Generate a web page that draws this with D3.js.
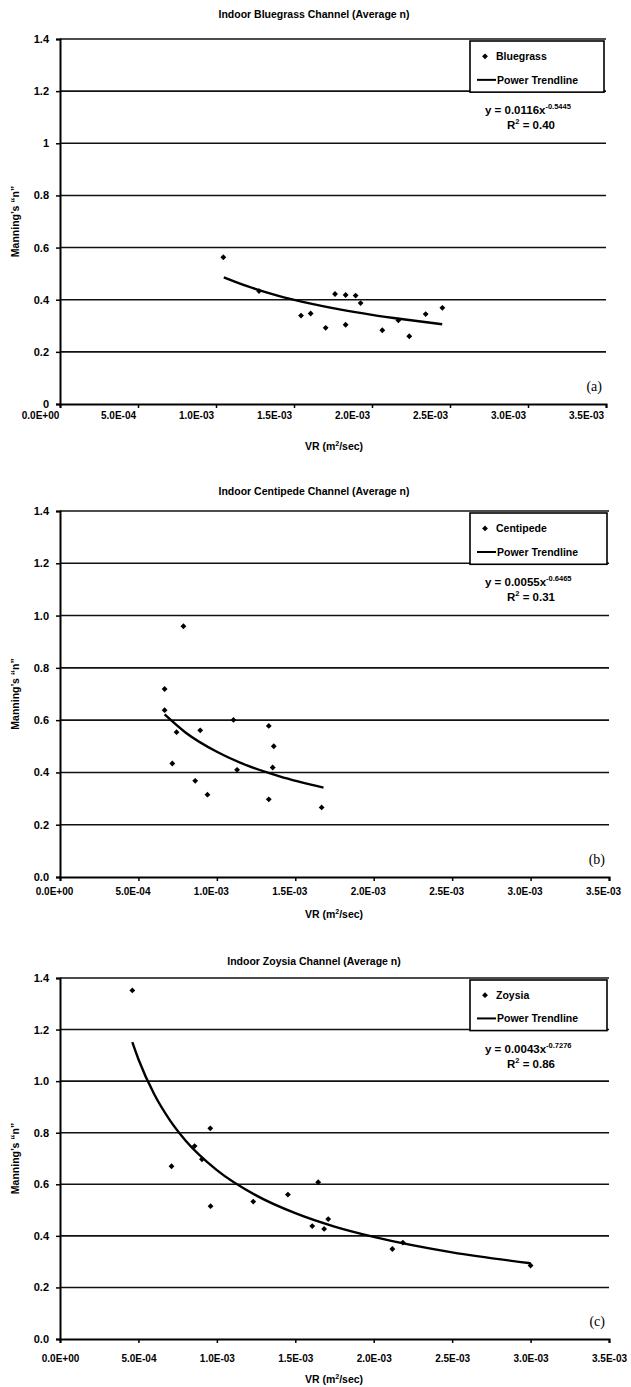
<!DOCTYPE html>
<html>
<head>
<meta charset="utf-8">
<script src="https://cdnjs.cloudflare.com/ajax/libs/d3/7.8.5/d3.min.js"></script>
<style>
  body { margin: 0; background: #fff; }
  svg { display: block; }
  text { font-family: "Liberation Sans", Arial, sans-serif; font-weight: bold; fill: #000; }
</style>
</head>
<body>
<div id="chart"></div>
<script>
// axis ticks
const xTicks = [0, 5e-4, 1e-3, 1.5e-3, 2e-3, 2.5e-3, 3e-3, 3.5e-3];
const xTickLabels = ["0.0E+00", "5.0E-04", "1.0E-03", "1.5E-03", "2.0E-03", "2.5E-03", "3.0E-03", "3.5E-03"];
const yTicks = [0, 0.2, 0.4, 0.6, 0.8, 1.0, 1.2, 1.4];
const yTickLabelsA = ["0", "0.2", "0.4", "0.6", "0.8", "1", "1.2", "1.4"];
const yTickLabelsBC = ["0.0", "0.2", "0.4", "0.6", "0.8", "1.0", "1.2", "1.4"];

// bluegrass
const bluegrassVR = [1.047e-3, 1.276e-3, 1.545e-3, 1.607e-3, 1.703e-3, 1.763e-3, 1.831e-3, 1.831e-3, 1.895e-3, 1.927e-3, 2.066e-3, 2.169e-3, 2.239e-3, 2.344e-3, 2.451e-3];
const bluegrassN = [0.563, 0.433, 0.339, 0.347, 0.292, 0.422, 0.418, 0.304, 0.416, 0.387, 0.283, 0.321, 0.260, 0.345, 0.369];
const bluegrassTrendVR = [1.05e-3, 1.2e-3, 1.4e-3, 1.6e-3, 1.8e-3, 2.0e-3, 2.2e-3, 2.45e-3];
const bluegrassTrendN = [0.486, 0.452, 0.415, 0.386, 0.362, 0.342, 0.325, 0.306];

// centipede
const centipedeVR = [0.787e-3, 0.667e-3, 0.667e-3, 0.743e-3, 0.716e-3, 0.894e-3, 0.862e-3, 0.940e-3, 1.106e-3, 1.129e-3, 1.331e-3, 1.363e-3, 1.356e-3, 1.331e-3, 1.668e-3];
const centipedeN = [0.959, 0.719, 0.638, 0.554, 0.434, 0.561, 0.368, 0.315, 0.601, 0.410, 0.578, 0.500, 0.419, 0.297, 0.266];
const centipedeTrendVR = [0.667e-3, 0.8e-3, 1.0e-3, 1.2e-3, 1.4e-3, 1.68e-3];
const centipedeTrendN = [0.622, 0.553, 0.479, 0.425, 0.385, 0.342];

// zoysia
const zoysiaVR = [0.461e-3, 0.711e-3, 0.858e-3, 0.905e-3, 0.958e-3, 0.960e-3, 1.232e-3, 1.453e-3, 1.646e-3, 1.608e-3, 1.684e-3, 1.710e-3, 2.119e-3, 2.186e-3, 3.0e-3];
const zoysiaN = [1.352, 0.670, 0.748, 0.697, 0.817, 0.515, 0.533, 0.560, 0.608, 0.438, 0.427, 0.465, 0.349, 0.374, 0.285];
const zoysiaTrendVR = [0.461e-3, 0.5e-3, 0.6e-3, 0.7e-3, 0.8e-3, 1.0e-3, 1.25e-3, 1.5e-3, 1.75e-3, 2.0e-3, 2.5e-3, 3.0e-3];
const zoysiaTrendN = [1.151, 1.085, 0.950, 0.849, 0.770, 0.655, 0.557, 0.488, 0.436, 0.396, 0.336, 0.294];

const panels = [
  {title: "Indoor Bluegrass Channel (Average n)", name: "Bluegrass", tag: "(a)",
   vr: bluegrassVR, n: bluegrassN, tvr: bluegrassTrendVR, tn: bluegrassTrendN,
   coef: "y = 0.0116x", expo: "-0.5445", r2: "0.40", yLabels: yTickLabelsA,
   top: 39, bottom: 404, left: 60, right: 606, titleY: 18, tickY: 419, vrY: 450, labelDx: -20},
  {title: "Indoor Centipede Channel (Average n)", name: "Centipede", tag: "(b)",
   vr: centipedeVR, n: centipedeN, tvr: centipedeTrendVR, tn: centipedeTrendN,
   coef: "y = 0.0055x", expo: "-0.6465", r2: "0.31", yLabels: yTickLabelsBC,
   top: 511, bottom: 877, left: 60, right: 609, titleY: 495, tickY: 895, vrY: 918, labelDx: -6},
  {title: "Indoor Zoysia Channel (Average n)", name: "Zoysia", tag: "(c)",
   vr: zoysiaVR, n: zoysiaN, tvr: zoysiaTrendVR, tn: zoysiaTrendN,
   coef: "y = 0.0043x", expo: "-0.7276", r2: "0.86", yLabels: yTickLabelsBC,
   top: 978, bottom: 1339, left: 60, right: 609, titleY: 965, tickY: 1362, vrY: 1383, labelDx: 0}
];

const svg = d3.select("#chart").append("svg")
  .attr("width", 631)
  .attr("height", 1387);

// small filled diamond, like the Excel marker
const marker = d3.symbol().type(d3.symbolSquare).size(17);

panels.forEach(p => {
  const x = d3.scaleLinear().domain([0, 3.5e-3]).range([p.left, p.right]);
  const y = d3.scaleLinear().domain([0, 1.4]).range([p.bottom, p.top]);
  const g = svg.append("g");

  // gridlines
  g.selectAll(".grid")
    .data(yTicks.filter(d => d > 0))
    .enter()
    .append("line")
    .attr("x1", p.left).attr("x2", p.right)
    .attr("y1", d => y(d)).attr("y2", d => y(d))
    .attr("stroke", "#111").attr("stroke-width", 1.6);

  // y axis
  const yAxis = g.append("g")
    .attr("transform", `translate(${p.left},0)`)
    .call(d3.axisLeft(y).tickValues(yTicks).tickSize(4).tickFormat((d, i) => p.yLabels[i]));
  yAxis.select(".domain").attr("stroke", "#000").attr("stroke-width", 2);
  yAxis.selectAll(".tick line").attr("stroke", "#000").attr("stroke-width", 1.5);
  yAxis.selectAll(".tick text").attr("font-size", 11).attr("x", -11)
    .style("font-family", "'Liberation Sans', Arial, sans-serif").style("font-weight", "bold");

  // x axis
  const xAxis = g.append("g")
    .attr("transform", `translate(0,${p.bottom})`)
    .call(d3.axisBottom(x).tickValues(xTicks).tickSize(4).tickFormat((d, i) => xTickLabels[i]));
  xAxis.select(".domain").attr("stroke", "#000").attr("stroke-width", 2);
  xAxis.selectAll(".tick line").attr("stroke", "#000").attr("stroke-width", 1.5);
  xAxis.selectAll(".tick text").attr("font-size", 10)
    .attr("dy", null).attr("y", p.tickY - p.bottom)
    .attr("dx", p.labelDx)
    .style("font-family", "'Liberation Sans', Arial, sans-serif").style("font-weight", "bold");

  // title
  g.append("text")
    .attr("x", 314).attr("y", p.titleY)
    .attr("text-anchor", "middle").attr("font-size", 10.5)
    .text(p.title);

  // axis titles
  const vr = g.append("text")
    .attr("x", 334).attr("y", p.vrY)
    .attr("text-anchor", "middle").attr("font-size", 10.5);
  vr.append("tspan").text("VR (m");
  vr.append("tspan").attr("font-size", 7).attr("dy", -4).text("2");
  vr.append("tspan").attr("dy", 4).text("/sec)");

  g.append("text")
    .attr("transform", `translate(19,${(p.top + p.bottom) / 2}) rotate(-90)`)
    .attr("text-anchor", "middle").attr("font-size", 10.5)
    .text("Manning\u2019s \u201cn\u201d");

  // trendline
  const line = d3.line()
    .x(d => x(d[0])).y(d => y(d[1]))
    .curve(d3.curveMonotoneX);
  g.append("path")
    .datum(d3.zip(p.tvr, p.tn))
    .attr("d", line)
    .attr("fill", "none").attr("stroke", "#000").attr("stroke-width", 2.4);

  // points
  g.selectAll(".pt")
    .data(d3.zip(p.vr, p.n))
    .enter()
    .append("path")
    .attr("d", marker)
    .attr("transform", d => `translate(${x(d[0])},${y(d[1])}) rotate(45)`)
    .attr("fill", "#000");

  // legend
  const ly0 = y(1.4) + 2, ly1 = y(1.2) + 1;
  const lx0 = 470, lx1 = p.right - 2;
  g.append("rect")
    .attr("x", lx0).attr("y", ly0)
    .attr("width", lx1 - lx0).attr("height", ly1 - ly0)
    .attr("fill", "#fff").attr("stroke", "#000").attr("stroke-width", 1.6);
  const rowA = ly0 + (ly1 - ly0) * 0.3, rowB = ly0 + (ly1 - ly0) * 0.76;
  g.append("path").attr("d", marker)
    .attr("transform", `translate(485,${rowA}) rotate(45)`).attr("fill", "#000");
  g.append("text").attr("x", 496).attr("y", rowA + 4)
    .attr("font-size", 10.5).text(p.name);
  g.append("line")
    .attr("x1", 477).attr("x2", 496)
    .attr("y1", rowB).attr("y2", rowB)
    .attr("stroke", "#000").attr("stroke-width", 2);
  g.append("text").attr("x", 497).attr("y", rowB + 4)
    .attr("font-size", 10.5).text("Power Trendline");

  // equation
  const eq = g.append("text")
    .attr("x", 485).attr("y", y(1.2) + 23)
    .attr("font-size", 11.5);
  eq.append("tspan").text(p.coef);
  eq.append("tspan").attr("font-size", 7.5).attr("dy", -5).text(p.expo);
  const r2 = g.append("text")
    .attr("x", 507).attr("y", y(1.2) + 38)
    .attr("font-size", 11.5);
  r2.append("tspan").text("R");
  r2.append("tspan").attr("font-size", 7.5).attr("dy", -5).text("2");
  r2.append("tspan").attr("dy", 5).text(" = " + p.r2);

  // panel tag
  g.append("text")
    .attr("x", p.right - 4).attr("y", p.bottom - 13)
    .attr("text-anchor", "end").attr("font-size", 14)
    .style("font-family", "'Liberation Serif', 'Times New Roman', serif")
    .style("font-weight", "normal")
    .text(p.tag);
});
</script>
</body>
</html>
